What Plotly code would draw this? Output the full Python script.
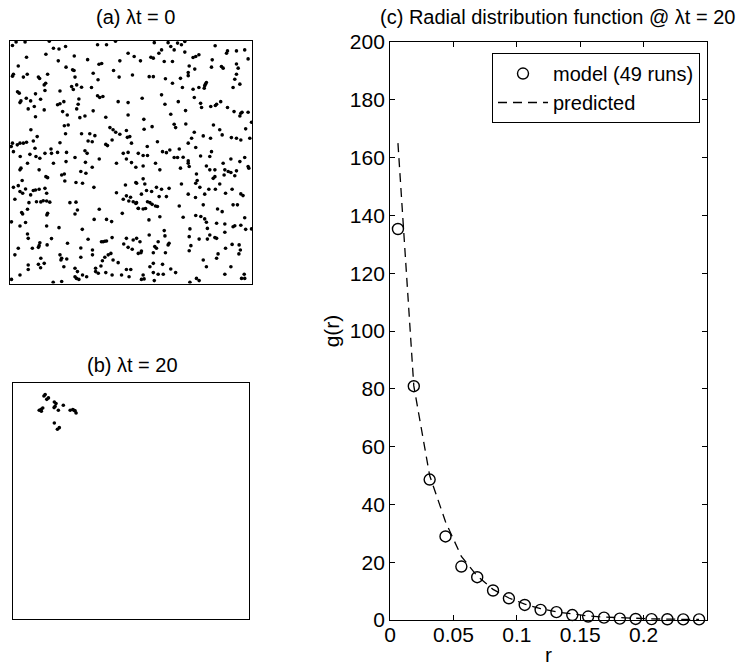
import plotly.graph_objects as go

FONT = "Liberation Sans, Arial, Helvetica, sans-serif"
FS_TICK = 21
FS_TEXT = 20

# ---------------- data ----------------
# (a) particle positions at lambda*t = 0 (percent of box side)
a_positions = [
    (1,98),(2.5,99.5),(6.2,99.5),(16.2,99.8),(17.9,96.9),(20.2,96.6),(22.9,97.6),(36.1,98.3),(39.8,98.3),(43.5,99.8),
    (6.8,93.2),(14.8,94.4),(26.5,93.7),(19.9,91.7),(32.0,92.2),(48.7,94.8),(51.2,93.5),(45.3,91.7),(36.7,90.3),(37.8,90.6),
    (3.4,89.6),(23.1,89.1),(25.8,88.0),(26.4,87.7),(42.7,87.7),(1.4,86.2),(1.0,85.4),(5.5,85.0),(7.1,86.2),(11.7,85.0),
    (12.2,84.4),(15.5,86.2),(26.8,85.0),(34.3,86.6),(45.0,85.0),(50.5,85.9),(14.7,82.5),(14.1,81.8),(36.3,83.9),(25.4,81.1),
    (27.5,81.8),(29.5,80.8),(26.1,79.9),(33.6,80.7),(20.6,79.3),(14.4,79.5),(3.1,79.0),(3.8,78.4),(10.5,78.1),(36.1,77.3),
    (37.0,76.6),(38.3,77.0),(4.5,75.2),(4.1,74.5),(6.7,76.3),(8.5,75.2),(12.6,75.9),(28.4,76.0),(22.2,74.9),(19.6,73.6),
    (20.6,74.0),(44.6,74.9),(48.7,74.5),(7.5,71.9),(10.0,72.9),(14.1,71.5),(21.7,70.8),(28.1,73.8),(27.5,71.9),(23.6,69.4),
    (30.9,69.0),(28.8,68.3),(34.3,71.1),(39.5,68.5),(48.7,69.4),(10.5,68.7),(22.4,65.0),(24.0,65.3),(8.6,63.3),(41.2,64.2),
    (42.5,63.3),(29.5,61.7),(32.9,61.7),(35.0,60.9),(22.9,61.7),(11.2,60.5),(43.6,62.3),(45.3,61.5),(48.0,63.0),(49.4,60.5),
    (48.4,60.2),(1.0,57.8),(3.0,57.1),(4.1,57.8),(5.5,57.8),(6.8,58.2),(9.6,58.7),(20.6,58.0),(32.2,58.7),(33.9,58.4),
    (39.5,57.3),(40.2,56.8),(42.1,59.1),(50.1,57.8),(0.5,56.4),(10.3,55.7),(16.9,55.4),(17.1,53.6),(14.4,53.6),(19.6,54.0),
    (23.3,54.0),(30.9,54.7),(31.8,53.6),(46.7,53.6),(48.7,54.0),(52.9,53.6),(1.4,54.3),(4.2,52.3),(8.2,53.2),(10.7,52.3),
    (12.3,51.6),(7.2,49.5),(17.9,49.5),(23.1,50.2),(26.8,51.9),(31.1,49.9),(36.8,51.3),(43.9,49.5),(50.1,49.8),(48.0,51.3),
    (59.5,99.2),(65.2,99.2),(69.1,99.0),(72.1,99.7),(70.7,98.3),(66.3,97.6),(67.7,96.2),(62.5,96.2),(61.4,94.8),(58.1,93.2),
    (59.1,92.8),(53.8,91.7),(63.6,91.4),(67.0,91.4),(72.1,95.3),(75.5,93.1),(76.6,93.5),(77.9,94.2),(83.4,92.1),(84.6,97.9),
    (89.7,95.8),(89.3,94.8),(93.4,95.8),(96.8,96.2),(98.2,92.5),(73.9,89.6),(76.2,88.3),(73.5,86.9),(83.1,89.1),(87.2,89.4),
    (87.9,88.7),(93.4,90.4),(94.1,88.7),(93.4,86.2),(92.7,84.1),(92.0,80.7),(94.8,82.1),(57.4,85.2),(59.1,85.2),(64.1,84.3),
    (67.0,82.5),(70.3,84.5),(71.1,80.7),(73.5,85.6),(75.5,80.0),(77.9,80.7),(80.1,80.4),(80.6,82.1),(81.0,82.8),(80.3,81.4),
    (54.5,76.3),(62.5,77.7),(63.9,73.8),(69.4,74.9),(76.0,76.6),(78.6,74.2),(79.0,72.5),(82.8,72.9),(84.7,73.3),(85.2,73.8),
    (86.9,74.9),(89.7,72.5),(92.4,70.8),(95.2,70.1),(95.7,70.5),(98.2,70.5),(99.6,66.4),(66.3,69.7),(72.4,71.2),(94.8,69.0),
    (55.2,67.6),(55.3,63.5),(58.6,64.6),(67.7,65.6),(68.3,64.2),(72.5,65.7),(76.0,62.3),(74.9,59.8),(73.5,57.8),(79.7,60.8),
    (82.7,59.8),(83.9,65.3),(86.5,63.3),(87.5,61.2),(91.3,60.1),(93.4,59.8),(95.2,59.1),(97.2,63.7),(98.9,59.8),(60.8,58.4),
    (56.6,56.4),(54.9,52.7),(56.7,52.7),(62.9,54.3),(64.5,53.9),(65.9,55.0),(69.8,55.4),(67.7,51.9),(69.1,51.9),(71.4,52.0),
    (73.5,50.5),(73.5,49.5),(76.6,56.0),(78.6,52.5),(82.4,52.3),(83.1,54.3),(87.9,49.5),(91.1,51.3),(94.8,50.2),(96.8,51.9),
    (60.0,49.5),
    (4.5,47.5),(4.1,46.8),(12.0,46.8),(33.9,47.9),(29.2,46.1),(31.3,45.4),(51.9,47.9),(5.0,42.4),(3.4,40.3),(1.4,39.6),
    (6.4,38.9),(4.1,37.9),(5.2,37.2),(8.5,36.5),(9.6,38.3),(10.5,38.5),(12.0,38.8),(14.4,39.2),(15.1,37.2),(10.9,33.7),
    (12.7,33.6),(13.7,34.1),(15.1,34.0),(16.4,33.5),(7.8,33.3),(2.0,34.7),(7.2,30.6),(4.8,29.2),(5.2,28.6),(15.5,28.9),
    (15.2,28.2),(14.8,44.0),(15.5,43.6),(21.3,44.7),(22.4,45.1),(22.6,42.2),(27.2,41.6),(29.9,41.3),(34.6,39.6),(47.6,40.6),
    (51.9,41.6),(43.9,37.4),(46.7,34.7),(48.0,36.1),(49.7,35.5),(49.0,34.0),(50.8,33.7),(51.9,33.0),(52.9,31.0),(27.2,33.5),
    (27.8,30.3),(24.7,33.3),(36.8,30.6),(26.8,28.6),(34.7,26.4),(39.8,26.4),(41.9,25.5),(46.3,28.9),(0.6,25.4),(4.1,23.7),
    (6.4,25.1),(15.1,23.7),(20.2,23.0),(29.8,22.3),(7.2,20.4),(7.5,18.6),(3.4,14.5),(2.0,11.8),(9.2,14.5),(11.7,14.9),
    (12.3,16.8),(12.0,15.6),(15.3,15.9),(17.1,18.5),(23.7,16.6),(29.2,14.6),(34.0,13.8),(37.7,17.2),(38.4,17.2),(39.1,17.4),
    (39.8,17.5),(42.1,18.9),(48.0,18.6),(50.8,17.9),(46.9,16.3),(48.7,14.9),(50.4,14.1),(52.9,12.4),(32.2,18.2),(20.6,11.8),
    (21.3,10.4),(21.0,9.7),(23.4,10.1),(29.2,10.8),(39.1,10.8),(40.5,11.8),(41.6,12.4),(42.5,9.7),(34.0,11.8),(38.1,9.4),
    (44.6,8.6),(48.0,5.8),(49.8,5.8),(49.1,2.8),(46.0,3.5),(12.7,10.4),(11.7,7.9),(12.6,6.5),(14.1,8.3),(7.5,7.6),
    (7.5,5.8),(4.1,3.5),(0.6,1.7),(22.2,6.9),(26.8,6.3),(27.8,4.9),(29.9,3.5),(31.6,2.8),(26.8,2.8),(27.4,2.1),
    (28.4,1.7),(35.3,6.3),(35.3,4.9),(36.4,4.2),(39.5,4.5),(42.1,3.5),(37.5,7.2),(17.8,0.5),(21.3,0.8),
    (54.9,48.4),(61.8,46.8),(73.9,48.2),(70.3,47.5),(81.0,48.4),(98.2,48.2),(98.5,47.5),(82.4,46.8),(84.5,46.8),(88.6,46.8),
    (90.0,46.1),(91.1,45.7),(93.4,46.4),(92.7,44.4),(88.3,44.7),(76.9,45.1),(84.5,44.0),(83.8,43.3),(76.6,41.3),(77.2,42.4),
    (78.3,39.6),(86.5,41.0),(84.7,38.8),(82.0,38.8),(80.3,36.8),(73.5,36.8),(76.5,35.4),(70.7,41.0),(91.6,38.8),(88.9,37.2),
    (95.2,36.9),(96.1,36.2),(92.0,32.4),(93.8,32.4),(79.7,32.4),(69.8,31.9),(85.6,30.7),(87.5,29.6),(71.4,27.3),(76.6,28.0),
    (78.7,27.6),(80.3,26.6),(81.0,25.2),(85.2,24.8),(88.6,24.5),(92.0,23.4),(92.7,23.8),(95.2,24.0),(96.8,27.1),(97.2,22.3),
    (99.6,22.5),(88.6,21.1),(81.4,22.7),(74.2,22.5),(73.9,19.3),(78.0,18.3),(81.4,18.3),(82.4,20.0),(84.5,18.9),(85.2,18.6),
    (88.9,14.5),(91.6,16.1),(94.5,15.9),(95.0,13.8),(94.4,12.2),(85.8,12.2),(85.2,10.4),(73.9,13.5),(74.6,15.6),(79.7,9.7),
    (81.0,6.9),(91.1,6.9),(88.6,3.8),(95.5,2.1),(96.6,3.8),(96.8,2.1),(76.9,2.1),(78.0,1.2),(74.2,0.5),
    (52.2,41.3),(54.9,43.1),(55.6,41.0),(54.2,36.8),(56.3,38.3),(58.4,37.9),(60.4,39.6),(62.5,38.8),(65.6,39.2),(61.5,35.8),
    (64.5,35.8),(52.2,33.3),(52.9,30.9),(54.9,30.7),(55.9,30.9),(56.7,33.7),(57.7,33.3),(58.6,32.6),(60.0,31.9),(60.8,31.7),
    (57.3,26.2),(61.8,27.5),(63.6,21.8),(63.9,19.6),(57.4,20.0),(52.2,18.6),(53.6,17.2),(61.1,17.2),(59.7,15.2),(59.1,12.7),
    (54.2,13.4),(54.0,12.7),(60.4,14.5),(65.2,15.9),(65.6,16.6),(64.1,12.7),(66.3,6.0),(68.3,4.5),(59.1,8.3),(62.9,7.9),
    (57.7,6.9),(59.1,4.5),(61.1,3.8),(63.2,3.8),(54.9,3.5),(55.3,1.9),(54.2,1.7),(59.5,1.2),
]

# (b) particle positions at lambda*t = 20 (percent of box side)
b_positions = [
    (13.6,95.2),(14.3,93.2),(15.0,93.8),(11.1,88.6),(11.9,89.0),(12.6,89.5),(17.5,92.1),(18.2,91.4),
    (17.4,89.7),(19.2,88.6),(21.3,90.7),(24.2,88.6),(25.3,88.9),(26.3,88.3),(26.7,87.4),(17.5,83.2),
    (18.8,80.5),(19.6,81.2),(12.0,88.2),(17.8,90.2),(25.8,88.6),(13.1,94.6),
]

# (c) radial distribution function
r_vals = [0.00625, 0.01875, 0.03125, 0.04375, 0.05625, 0.06875, 0.08125, 0.09375, 0.10625, 0.11875,
          0.13125, 0.14375, 0.15625, 0.16875, 0.18125, 0.19375, 0.20625, 0.21875, 0.23125, 0.24375]
g_model = [135.3, 80.9, 48.6, 28.9, 18.5, 14.8, 10.2, 7.5, 5.2, 3.5,
           2.7, 1.7, 1.2, 0.8, 0.45, 0.35, 0.3, 0.25, 0.2, 0.2]
g_pred = [165, 81, 50, 34, 22, 15.2, 10.6, 7.6, 5.5, 3.9,
          2.8, 2.0, 1.4, 1.0, 0.75, 0.55, 0.4, 0.3, 0.22, 0.17]

x_tick_vals = [0, 0.05, 0.1, 0.15, 0.2]
x_tick_text = ["0", "0.05", "0.1", "0.15", "0.2"]
y_tick_vals = [0, 20, 40, 60, 80, 100, 120, 140, 160, 180, 200]

title_a = "(a) λt = 0"
title_b = "(b) λt = 20"
title_c = "(c) Radial distribution function @ λt = 20"
legend_model = "model (49 runs)"
legend_pred = "predicted"

a_x = [p[0] for p in a_positions]
a_y = [p[1] for p in a_positions]
b_x = [p[0] for p in b_positions]
b_y = [p[1] for p in b_positions]

# ---------------- figure ----------------
fig = go.Figure()
dot = dict(size=3.6, color="black", line=dict(width=0))
fig.add_trace(go.Scatter(x=a_x, y=a_y, mode="markers", marker=dot, showlegend=False,
                         xaxis="x", yaxis="y", hoverinfo="skip"))
fig.add_trace(go.Scatter(x=b_x, y=b_y, mode="markers", marker=dot, showlegend=False,
                         xaxis="x2", yaxis="y2", hoverinfo="skip"))
fig.add_trace(go.Scatter(x=r_vals, y=g_model, mode="markers", name=legend_model,
                         marker=dict(symbol="circle-open", size=11, color="black",
                                     line=dict(width=1.4, color="black")),
                         xaxis="x3", yaxis="y3", cliponaxis=False))
fig.add_trace(go.Scatter(x=r_vals, y=g_pred, mode="lines", name=legend_pred,
                         line=dict(color="black", width=1.3, dash="9px,6px"),
                         xaxis="x3", yaxis="y3"))

box = dict(showline=True, linecolor="black", linewidth=1, mirror=True, showgrid=False,
           zeroline=False, showticklabels=False, ticks="", fixedrange=True, automargin=False)
tickfont = dict(family=FONT, size=FS_TICK, color="black")
textfont = dict(family=FONT, size=FS_TEXT, color="black")
axis_c = dict(showline=True, linecolor="black", linewidth=1, mirror="ticks", showgrid=False,
              zeroline=False, ticks="inside", ticklen=5, tickwidth=1, tickcolor="black",
              tickfont=tickfont, automargin=False)

fig.update_layout(
    template="none",
    width=738, height=666,
    margin=dict(l=0, r=0, t=0, b=0, pad=0),
    paper_bgcolor="white", plot_bgcolor="white",
    font=dict(family=FONT, size=FS_TEXT, color="black"),
    xaxis=dict(domain=[0.0136, 0.3421], range=[0, 100], anchor="y", **box),
    yaxis=dict(domain=[0.5743, 0.9389], range=[0, 100], anchor="x", **box),
    xaxis2=dict(domain=[0.0176, 0.3378], range=[0, 100], anchor="y2", **box),
    yaxis2=dict(domain=[0.0701, 0.4245], range=[0, 100], anchor="x2", **box),
    xaxis3=dict(domain=[0.5285, 0.9580], range=[0, 0.25], anchor="y3",
                tickvals=x_tick_vals, ticktext=x_tick_text,
                title=dict(text="r", font=tickfont, standoff=16), **axis_c),
    yaxis3=dict(domain=[0.0691, 0.9369], range=[0, 200], anchor="x3",
                tickvals=y_tick_vals,
                title=dict(text="g(r)", font=tickfont, standoff=4), **axis_c),
    showlegend=True,
    legend=dict(x=0.9485, y=0.9204, xanchor="right", yanchor="top",
                bgcolor="white", bordercolor="black", borderwidth=1,
                font=textfont, itemwidth=50, tracegroupgap=0),
    annotations=[
        dict(text=title_a, x=0.1836, y=0.9745, xref="paper", yref="paper",
             xanchor="center", yanchor="middle", showarrow=False, font=textfont),
        dict(text=title_b, x=0.1800, y=0.4520, xref="paper", yref="paper",
             xanchor="center", yanchor="middle", showarrow=False, font=textfont),
        dict(text=title_c, x=0.7560, y=0.9745, xref="paper", yref="paper",
             xanchor="center", yanchor="middle", showarrow=False, font=textfont),
    ],
)

# pull the x tick labels a little closer to the axis, as in the reference
try:
    fig.update_xaxes(ticklabelstandoff=-4, selector=dict(anchor="y3"))
except Exception:
    pass

fig.write_html("out.html")
